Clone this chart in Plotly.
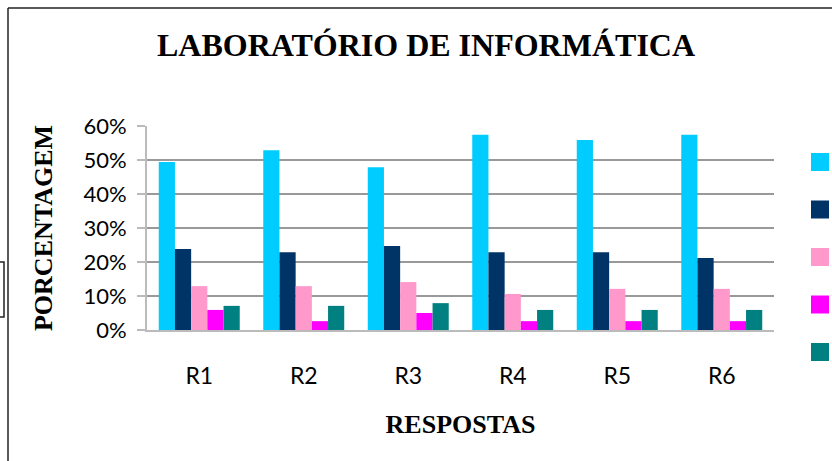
import plotly.graph_objects as go

categorias = ["R1", "R2", "R3", "R4", "R5", "R6"]
serie_1 = [0.494, 0.529, 0.479, 0.574, 0.559, 0.574]
serie_2 = [0.238, 0.229, 0.247, 0.229, 0.229, 0.212]
serie_3 = [0.129, 0.129, 0.141, 0.106, 0.121, 0.121]
serie_4 = [0.059, 0.026, 0.050, 0.026, 0.026, 0.026]
serie_5 = [0.071, 0.071, 0.079, 0.059, 0.059, 0.059]

series = [serie_1, serie_2, serie_3, serie_4, serie_5]
nomes = ["Série 1", "Série 2", "Série 3", "Série 4", "Série 5"]
cores = ["#00CCFF", "#003366", "#FF99CC", "#FF00FF", "#008080"]

W, H = 832, 461
L, R, T, B = 147, 58, 126, 131
pw, ph = W - L - R, H - T - B


def px(x):
    return (x - L) / pw


def py(y):
    return (H - B - y) / ph


fig = go.Figure()
for nome, valores, cor in zip(nomes, series, cores):
    fig.add_trace(go.Bar(x=categorias, y=valores, name=nome, marker=dict(color=cor, line=dict(width=0))))

shapes = []
# legend squares (text is cut off in the original)
for i, cor in enumerate(cores):
    y0 = 153 + i * 47.5
    shapes.append(dict(type="rect", xref="paper", yref="paper",
                       x0=px(811), x1=px(829), y0=py(y0 + 18), y1=py(y0),
                       fillcolor=cor, line=dict(width=0)))
# outer chart border
shapes.append(dict(type="line", xref="paper", yref="paper", x0=px(8), x1=px(8),
                   y0=py(8), y1=py(461), line=dict(color="#222", width=1.5)))
shapes.append(dict(type="line", xref="paper", yref="paper", x0=px(8), x1=px(832),
                   y0=py(8), y1=py(8), line=dict(color="#222", width=1.5)))
# small box at the left edge
shapes.append(dict(type="rect", xref="paper", yref="paper", x0=px(-2), x1=px(4),
                   y0=py(317), y1=py(262), line=dict(color="#222", width=1.5)))

fig.update_layout(
    width=W, height=H,
    margin=dict(l=L, r=R, t=T, b=B),
    paper_bgcolor="white", plot_bgcolor="white",
    barmode="group", bargap=0.225, bargroupgap=0,
    showlegend=False,
    shapes=shapes,
    title=dict(text="<b>LABORATÓRIO DE INFORMÁTICA</b>", xref="container", x=426 / W,
               xanchor="center", y=1 - 45 / H, yanchor="middle",
               font=dict(family="Liberation Serif", size=32, color="black")),
    font=dict(family="Lato", size=22, color="black"),
    xaxis=dict(showline=True, linecolor="#bbbbbb", linewidth=2, ticks="",
               ticklabelstandoff=24, tickfont=dict(size=23),
               title=dict(text="<b>RESPOSTAS</b>", standoff=27,
                          font=dict(family="Liberation Serif", size=26))),
    yaxis=dict(range=[0, 0.6], dtick=0.1, tickformat=".0%",
               showline=True, linecolor="#bbbbbb", linewidth=2,
               ticks="outside", ticklen=8, tickcolor="#bbbbbb", tickwidth=2,
               ticklabelstandoff=6,
               showgrid=True, gridcolor="#999999", gridwidth=2,
               zeroline=False, tickfont=dict(size=22),
               title=dict(text="<b>PORCENTAGEM</b>", standoff=23,
                          font=dict(family="Liberation Serif", size=26))),
)

fig.write_html("out.html", config={"displayModeBar": False},
               post_script="document.body.style.margin='0';")
